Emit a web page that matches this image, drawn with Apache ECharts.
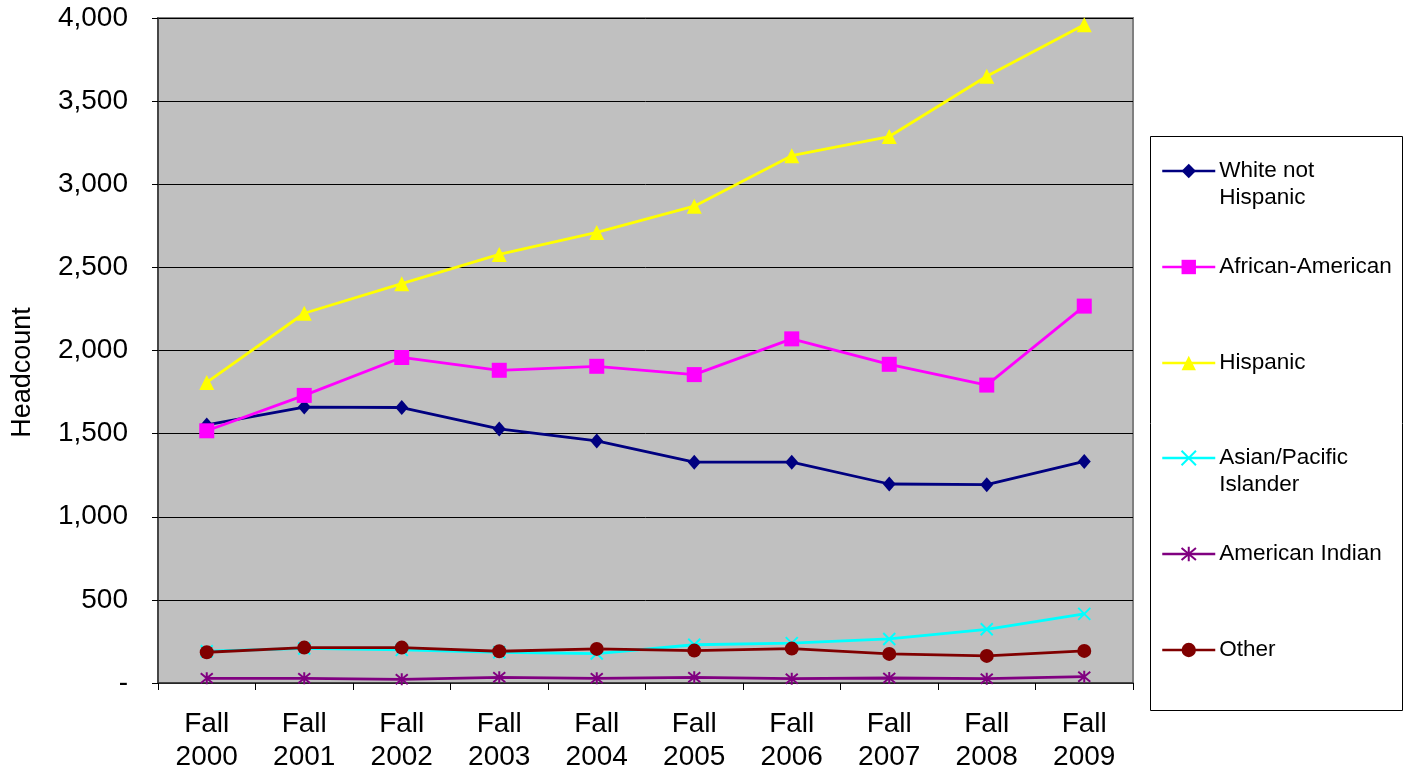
<!DOCTYPE html>
<html><head><meta charset="utf-8">
<script src="https://cdn.jsdelivr.net/npm/echarts@6/dist/echarts.min.js"></script>
<style>html,body{margin:0;padding:0;background:#fff}#c{width:1412px;height:776px}</style>
</head><body><div id="c"></div>
<script>
const categories = ['Fall 2000','Fall 2001','Fall 2002','Fall 2003','Fall 2004','Fall 2005','Fall 2006','Fall 2007','Fall 2008','Fall 2009'];
const whiteNotHispanic = [1552, 1660, 1657, 1528, 1456, 1328, 1328, 1197, 1193, 1333];
const africanAmerican = [1517, 1730, 1958, 1881, 1905, 1855, 2070, 1917, 1792, 2267];
const hispanic = [1808, 2224, 2402, 2578, 2710, 2868, 3172, 3287, 3650, 3960];
const asianPacific = [191, 208, 199, 185, 177, 230, 240, 265, 323, 416];
const americanIndian = [28, 28, 22, 34, 28, 34, 26, 30, 26, 38];
const other = [185, 213, 213, 191, 205, 195, 207, 175, 163, 193];
const seriesNames = ['White not Hispanic','African-American','Hispanic','Asian/Pacific Islander','American Indian','Other'];
const legendLabels = [' \nWhite not\nHispanic','African-American','Hispanic',' \nAsian/Pacific\nIslander','American Indian','Other'];
const legendCenters = [171, 267, 363, 458, 554, 650];

const FONT = '"Liberation Sans", Arial, sans-serif';
const crossPath = 'path://M0,0L10,10M10,0L0,10';
const starPath = 'path://M0,0L10,10M10,0L0,10M5,-1L5,11';

function mk(name, data, color, symbol, size, extra) {
  return Object.assign({
    name, type: 'line', data, symbol, symbolSize: size,
    lineStyle: { color, width: 2.8 },
    itemStyle: { color },
    emphasis: { disabled: true },
    animation: false
  }, extra || {});
}

const series = [
  mk(seriesNames[0], whiteNotHispanic, '#000080', 'diamond', [13, 15]),
  mk(seriesNames[1], africanAmerican, '#FF00FF', 'rect', 15),
  mk(seriesNames[2], hispanic, '#FFFF00', 'triangle', 15),
  mk(seriesNames[3], asianPacific, '#00FFFF', crossPath, 12, { itemStyle: { color: 'rgba(0,0,0,0)', borderColor: '#00FFFF', borderWidth: 2 } }),
  mk(seriesNames[4], americanIndian, '#800080', starPath, 12, { itemStyle: { color: 'rgba(0,0,0,0)', borderColor: '#800080', borderWidth: 2 } }),
  mk(seriesNames[5], other, '#800000', 'circle', 14)
];

const legends = seriesNames.map((n, i) => {
  const twoLine = legendLabels[i].indexOf('\n') >= 0;
  const h = twoLine ? 81 : 27;
  return {
    data: [n], left: 1161, top: legendCenters[i] - h / 2,
    itemWidth: 53, itemHeight: 18, itemGap: 0, padding: 0,
    selectedMode: false,
    lineStyle: { width: 2.5 },
    formatter: () => legendLabels[i],
    textStyle: { fontFamily: FONT, fontSize: 22.5, color: '#000', lineHeight: 27, padding: [0, 0, 0, -1] }
  };
});

const chart = echarts.init(document.getElementById('c'));
chart.setOption({
  backgroundColor: '#fff',
  animation: false,
  graphic: [{ type: 'rect', shape: { x: 1150.5, y: 136.5, width: 252, height: 574 }, style: { fill: '#fff', stroke: '#000', lineWidth: 1 }, z: -1 }],
  legend: legends,
  grid: { left: 158, right: 279, top: 18, bottom: 93, show: true, backgroundColor: '#C0C0C0', borderColor: '#808080', borderWidth: 2, containLabel: false, outerBoundsMode: 'none' },
  xAxis: {
    type: 'category', data: categories, boundaryGap: true,
    axisLine: { lineStyle: { color: '#333', width: 1.5 } },
    axisTick: { show: true, length: 7, lineStyle: { color: '#000' } },
    axisLabel: { fontFamily: FONT, fontSize: 28, color: '#000', lineHeight: 33, margin: 25, interval: 0,
      formatter: v => v.replace(' ', '\n') }
  },
  yAxis: {
    type: 'value', min: 0, max: 4000, interval: 500,
    name: 'Headcount', nameLocation: 'middle', nameRotate: 90, nameGap: 122,
    nameTextStyle: { fontFamily: FONT, fontSize: 27, color: '#000', padding: [0, 44, 0, 0] },
    axisLine: { show: true, lineStyle: { color: '#333', width: 1.5 } },
    axisTick: { show: true, length: 6, lineStyle: { color: '#000' } },
    splitLine: { show: true, lineStyle: { color: '#000', width: 1 } },
    axisLabel: { fontFamily: FONT, fontSize: 28, color: '#000', margin: 30,
      formatter: v => v === 0 ? '-' : v.toLocaleString('en-US') }
  },
  series
});
</script></body></html>
